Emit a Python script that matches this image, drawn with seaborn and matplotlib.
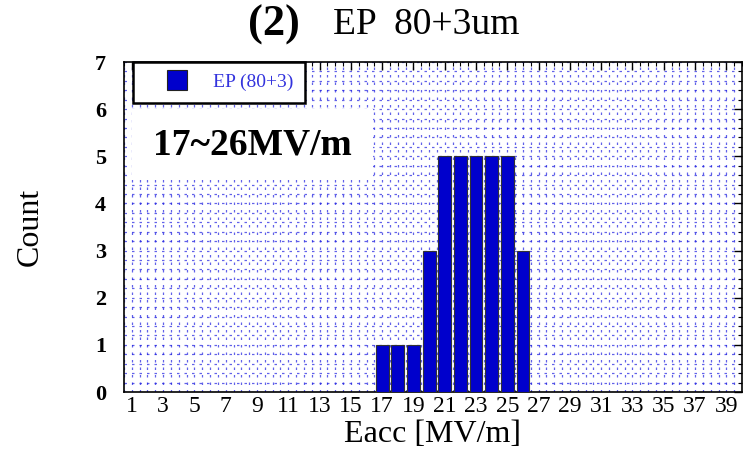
import numpy as np
import pandas as pd
import matplotlib
matplotlib.use("Agg")
import matplotlib.pyplot as plt
from matplotlib.ticker import MultipleLocator
from matplotlib.lines import Line2D
from matplotlib.patches import Rectangle
import seaborn as sns

# Data
eacc_bins = list(range(1, 41))
counts = [0]*16 + [1, 1, 1, 3, 5, 5, 5, 5, 5, 3] + [0]*14
tick_labels = [str(v) for v in range(1, 40, 2)]
series_name = "EP (80+3)"
title_bold = "(2)"
title_rest = "EP  80+3um"
annotation = "17~26MV/m"
bar_color = "#0000CC"

sns.set_theme(style="white")
plt.rcParams['font.family'] = ['Liberation Serif', 'DejaVu Serif']
plt.rcParams['text.color'] = 'black'
plt.rcParams['axes.labelcolor'] = 'black'
plt.rcParams['xtick.color'] = 'black'
plt.rcParams['ytick.color'] = 'black'

df = pd.DataFrame({"Eacc": eacc_bins, "Count": counts, "series": series_name})

fig = plt.figure(figsize=(7.43, 4.55), dpi=100)
ax = fig.add_axes([124/743, 1-392/455, (742-124)/743, (392-62)/455])

sns.barplot(data=df, x="Eacc", y="Count", hue="series", palette=[bar_color],
            width=0.82, edgecolor="#333333", linewidth=0.8, saturation=1,
            ax=ax, legend=False, zorder=3)

ax.set_xlim(-0.5, 39.0)
ax.set_ylim(0, 7)
ax.set_xticks(range(0, 40, 2))
ax.set_xticklabels(tick_labels)
ax.xaxis.set_minor_locator(MultipleLocator(0.5))
ax.yaxis.set_major_locator(MultipleLocator(1))
ax.yaxis.set_minor_locator(MultipleLocator(0.2))

ax.grid(which="both", color="#2020E0", linestyle=(0, (2, 4)), linewidth=0.9, alpha=0.7, zorder=0)
ax.set_axisbelow(True)

ax.tick_params(axis="both", which="major", direction="in", length=6, width=1,
               top=True, right=True, colors="black")
ax.tick_params(axis="x", which="major", labelsize=17, pad=3)
ax.tick_params(axis="y", which="major", labelsize=16, pad=13)
ax.tick_params(axis="both", which="minor", direction="in", length=3, width=0.8,
               top=True, right=True)
for lab in ax.get_yticklabels():
    lab.set_fontweight("bold")
for s in ax.spines.values():
    s.set_color("black")
    s.set_linewidth(1.2)

ax.set_xlabel("Eacc [MV/m]", fontsize=23, labelpad=2)
ax.set_ylabel("Count", fontsize=23, labelpad=36)

# Legend
handle = Line2D([], [], marker="s", markersize=14, color=bar_color,
                markeredgecolor="#222222", markeredgewidth=0.8, linestyle="none")
leg = ax.legend([handle], [series_name], loc="upper left", bbox_to_anchor=(9/618, 1.0),
                frameon=True, fancybox=False, edgecolor="black", framealpha=1.0, fontsize=14,
                handlelength=3.3, borderpad=0.6, handletextpad=0.2, borderaxespad=0.0)
leg.get_frame().set_linewidth(1.8)
leg.set_zorder(6)
for t in leg.get_texts():
    t.set_color("#3333DD")

# Annotation with white box
ax.add_patch(Rectangle((8/618, (392-178)/330), (373-132)/618, (178-109)/330,
                       transform=ax.transAxes, facecolor="white", edgecolor="none", zorder=4))
ax.text(0.207, 0.748, annotation, transform=ax.transAxes, fontsize=27, fontweight="bold",
        va="center", ha="center", zorder=5)

# Title
fig.text(0.403, 0.945, title_bold, fontsize=32, fontweight="bold", ha="right", va="center")
fig.text(0.448, 0.945, title_rest, fontsize=27, ha="left", va="center")

fig.savefig("out.png", dpi=100)
